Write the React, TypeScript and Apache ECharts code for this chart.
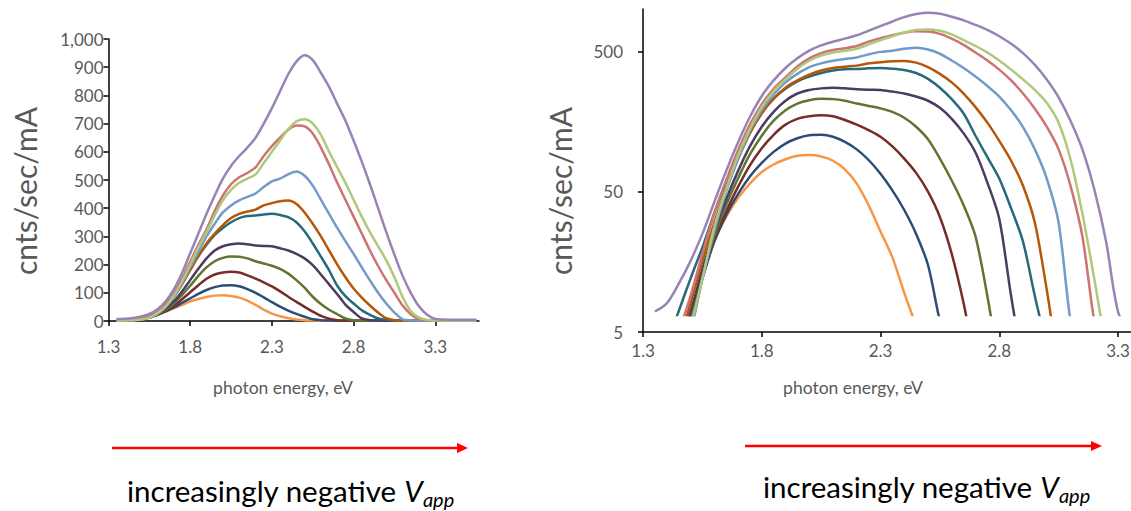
import React, { useEffect, useRef } from "react";
import * as echarts from "echarts";

// photon energy grid (eV)
const energies = [
  1.35, 1.4, 1.45, 1.5, 1.55, 1.6, 1.65, 1.7, 1.75, 1.8, 1.85, 1.9, 1.95, 2.0, 2.05,
  2.1, 2.15, 2.2, 2.25, 2.3, 2.35, 2.4, 2.45, 2.5, 2.55, 2.6, 2.65, 2.7, 2.75, 2.8,
  2.85, 2.9, 2.95, 3.0, 3.05, 3.1, 3.15, 3.2, 3.25, 3.3, 3.35, 3.4, 3.45, 3.5, 3.55,
];

// cnts/sec/mA for each applied voltage (increasingly negative)
const s01 = [0.5, 1, 2.5, 5, 12, 22, 33, 45, 57, 69, 78, 85, 90, 91, 89, 83, 72, 57, 40, 26, 17, 9.5, 5.5, 3, 1.5, 1, 0.8, 0.6, 0.5, 0.5, 0.5, 0.5, 0.5, 0.5, 0.5, 0.5, 0.5, 0.5, 0.5, 0.5, 0.5, 0.5, 0.5, 0.5, 0.5];
const s02 = [1, 2, 3.5, 6, 12, 22, 34, 48, 64, 80, 96, 110, 120, 126, 127, 123, 113, 100, 84, 67, 51, 37, 25, 15, 6, 3, 1.5, 1, 0.8, 0.6, 0.5, 0.5, 0.5, 0.5, 0.5, 0.5, 0.5, 0.5, 0.5, 0.5, 0.5, 0.5, 0.5, 0.5, 0.5];
const s03 = [1, 2, 3.5, 6.5, 13, 23, 36, 54, 77, 102, 127, 150, 165, 172, 175, 172, 162, 150, 137, 123, 105, 86, 68, 50, 33, 18, 8, 3, 1.5, 1, 0.8, 0.6, 0.5, 0.5, 0.5, 0.5, 0.5, 0.5, 0.5, 0.5, 0.5, 0.5, 0.5, 0.5, 0.5];
const s04 = [1, 2, 3.5, 6.5, 13, 24, 40, 62, 92, 125, 160, 190, 212, 224, 229, 228, 222, 212, 204, 196, 185, 168, 145, 118, 86, 60, 40, 24, 9, 3, 1.5, 1, 0.8, 0.6, 0.5, 0.5, 0.5, 0.5, 0.5, 0.5, 0.5, 0.5, 0.5, 0.5, 0.5];
const s05 = [1, 2, 4, 7, 14, 26, 44, 70, 105, 145, 185, 222, 250, 265, 272, 275, 272, 268, 266, 265, 258, 250, 238, 222, 198, 165, 130, 95, 58, 32, 9, 3, 1.5, 1, 0.8, 0.6, 0.5, 0.5, 0.5, 0.5, 0.5, 0.5, 0.5, 0.5, 0.5];
const s06 = [2, 4, 7, 12, 20, 35, 58, 92, 135, 185, 230, 270, 305, 330, 350, 365, 372, 374, 378, 380, 376, 368, 350, 318, 275, 228, 180, 125, 88, 62, 38, 22, 9, 4, 2, 1, 0.8, 0.6, 0.5, 0.5, 0.5, 0.5, 0.5, 0.5, 0.5];
const s07 = [1, 2, 4, 8, 16, 30, 52, 85, 130, 180, 230, 275, 310, 340, 365, 380, 388, 395, 410, 418, 425, 427, 415, 385, 345, 300, 250, 200, 155, 115, 83, 55, 30, 10, 3, 1.5, 1, 0.8, 0.6, 0.5, 0.5, 0.5, 0.5, 0.5, 0.5];
const s08 = [1, 2, 3, 5, 12, 26, 50, 85, 135, 190, 245, 300, 345, 385, 410, 428, 440, 452, 475, 495, 505, 520, 530, 515, 480, 430, 380, 330, 283, 238, 190, 144, 100, 62, 30, 6, 2.5, 1.5, 1, 0.8, 0.6, 0.5, 0.5, 0.5, 0.5];
const s09 = [2, 3, 5, 9, 18, 35, 60, 98, 150, 210, 270, 325, 390, 445, 485, 510, 525, 545, 585, 620, 650, 678, 693, 690, 665, 615, 555, 490, 430, 370, 310, 250, 195, 145, 100, 55, 24, 6, 2.5, 1.5, 1, 0.8, 0.6, 0.5, 0.5];
const s10 = [1, 2, 3, 5.5, 12, 28, 52, 90, 140, 200, 260, 315, 375, 428, 465, 490, 505, 520, 560, 600, 640, 680, 708, 715, 700, 660, 600, 545, 490, 430, 370, 315, 265, 215, 155, 85, 35, 12, 4, 2, 1.5, 1.5, 1.5, 1.5, 1.5];
const s11 = [7, 8, 11, 16, 25, 42, 70, 112, 170, 240, 310, 380, 445, 505, 550, 585, 615, 650, 700, 755, 815, 875, 920, 942, 925, 880, 830, 770, 710, 640, 565, 485, 400, 315, 235, 160, 100, 52, 22, 7, 5, 4.5, 4, 4, 4];

const allSeries = [s01, s02, s03, s04, s05, s06, s07, s08, s09, s10, s11];
const seriesColors = [
  "#F79646", "#2C4D75", "#772C2A", "#5F7530", "#4D3B62", "#276A7C",
  "#B65708", "#729ACA", "#CD7371", "#AFC97A", "#9983B5",
];

const xTicks = [1.3, 1.8, 2.3, 2.8, 3.3];
const rightYTicks = [5, 50, 500];
const yTitle = "cnts/sec/mA";
const xTitle = "photon energy, eV";
const arrowCaption = "increasingly negative ";

const FONT = "Lato, 'Open Sans', sans-serif";
const GREY = "#595959";

export default function App() {
  const ref = useRef<HTMLDivElement>(null);

  useEffect(() => {
    const chart = echarts.init(ref.current!, null, { renderer: "svg" });

    // left panel geometry
    const L = { left: 108.5, top: 39, width: 370.5, height: 282 };
    const lPxPerEv = 163.4;
    const lXMax = 1.3 + L.width / lPxPerEv;
    // right panel geometry
    const R = { left: 643, top: 9, width: 488, height: 323 };
    const rPxPerEv = 237.5;
    const rXMax = 1.3 + R.width / rPxPerEv;
    const rYMin = Math.log10(5);
    const rYMax = 3;
    const pxPerDec = R.height / (rYMax - rYMin);
    const clipBottom = 315; // data shown down to this pixel row
    const R2h = clipBottom - R.top;
    const r2YMin = rYMax - R2h / pxPerDec;

    const axisLine = { show: true, lineStyle: { color: "#000", width: 1.5 } };
    const axisTick = { show: true, length: 5, lineStyle: { color: "#000", width: 1.5 } };
    const labelBase = { color: GREY, fontSize: 17, fontFamily: FONT };

    const series: any[] = [];
    allSeries.forEach((vals, k) => {
      series.push({
        type: "line",
        xAxisIndex: 0,
        yAxisIndex: 0,
        data: energies.map((e, i) => [e, vals[i]]),
        showSymbol: false,
        symbol: "none",
        smooth: 0.3,
        silent: true,
        lineStyle: { color: seriesColors[k], width: 2.5 },
        itemStyle: { color: seriesColors[k] },
      });
      series.push({
        type: "line",
        xAxisIndex: 2,
        yAxisIndex: 2,
        data: energies.map((e, i) => [e, Math.log10(vals[i])]),
        showSymbol: false,
        symbol: "none",
        smooth: 0.3,
        silent: true,
        clip: true,
        lineStyle: { color: seriesColors[k], width: 2.5 },
        itemStyle: { color: seriesColors[k] },
      });
    });

    const arrow = (x1: number, x2: number, y: number) => [
      { type: "line", shape: { x1, y1: y, x2: x2 - 8, y2: y }, style: { stroke: "#FF0000", lineWidth: 2.5 } },
      { type: "polygon", shape: { points: [[x2, y], [x2 - 11, y - 5], [x2 - 11, y + 5]] }, style: { fill: "#FF0000" } },
    ];
    const caption = (x: number, y: number) => ({
      type: "text",
      x,
      y,
      style: {
        text: `{a|${arrowCaption}}{v|V}{s|app}`,
        textVerticalAlign: "bottom",
        rich: {
          a: { fontSize: 29.5, fontFamily: FONT, fill: "#000", verticalAlign: "bottom", padding: [0, 0, 4, 0] },
          v: { fontSize: 29.5, fontFamily: FONT, fontStyle: "italic", fill: "#000", verticalAlign: "bottom", padding: [0, 0, 4, 0] },
          s: { fontSize: 20, fontFamily: FONT, fontStyle: "italic", fill: "#000", verticalAlign: "bottom" },
        },
      },
    });

    const option: any = {
      animation: false,
      backgroundColor: "#fff",
      grid: [
        { ...L, outerBoundsMode: "none", containLabel: false },
        { ...R, outerBoundsMode: "none", containLabel: false },
        { left: R.left, top: R.top, width: R.width, height: R2h, outerBoundsMode: "none", containLabel: false },
      ],
      xAxis: [
        {
          type: "value", gridIndex: 0, min: 1.3, max: lXMax,
          axisLine, axisTick: { ...axisTick, customValues: xTicks },
          axisLabel: { ...labelBase, margin: 17, customValues: xTicks, formatter: (v: number) => v.toFixed(1) },
          splitLine: { show: false },
        },
        {
          type: "value", gridIndex: 1, min: 1.3, max: rXMax,
          axisLine, axisTick: { ...axisTick, customValues: xTicks },
          axisLabel: { ...labelBase, margin: 10, customValues: xTicks, formatter: (v: number) => v.toFixed(1) },
          splitLine: { show: false },
        },
        { type: "value", gridIndex: 2, min: 1.3, max: rXMax, show: false },
      ],
      yAxis: [
        {
          type: "value", gridIndex: 0, min: 0, max: 1000, interval: 100,
          axisLine, axisTick,
          axisLabel: { ...labelBase, margin: 5, formatter: (v: number) => v.toLocaleString("en-US") },
          splitLine: { show: false },
        },
        {
          type: "value", gridIndex: 1, min: rYMin, max: rYMax,
          axisLine,
          axisTick: { ...axisTick, customValues: rightYTicks.map((t) => Math.log10(t)) },
          axisLabel: {
            ...labelBase, margin: 20,
            customValues: rightYTicks.map((t) => Math.log10(t)),
            formatter: (v: number) => String(Math.round(Math.pow(10, v))),
          },
          splitLine: { show: false },
        },
        { type: "value", gridIndex: 2, min: r2YMin, max: rYMax, show: false },
      ],
      series,
      graphic: [
        { type: "text", x: 25, y: 191, rotation: Math.PI / 2, style: { text: yTitle, fill: GREY, fontSize: 30, fontFamily: FONT, textAlign: "center", textVerticalAlign: "middle" } },
        { type: "text", x: 560, y: 191, rotation: Math.PI / 2, style: { text: yTitle, fill: GREY, fontSize: 30, fontFamily: FONT, textAlign: "center", textVerticalAlign: "middle" } },
        { type: "text", x: 283, y: 387, style: { text: xTitle, fill: GREY, fontSize: 17.5, fontFamily: FONT, textAlign: "center", textVerticalAlign: "middle" } },
        { type: "text", x: 853, y: 387, style: { text: xTitle, fill: GREY, fontSize: 17.5, fontFamily: FONT, textAlign: "center", textVerticalAlign: "middle" } },
        ...arrow(112, 468, 448),
        ...arrow(745, 1102, 446),
        caption(127, 509),
        caption(763, 505),
      ],
    };

    chart.setOption(option);
    return () => chart.dispose();
  }, []);

  return (
    <div
      ref={ref}
      style={{ position: "fixed", left: 0, top: 0, width: 1131, height: 511, background: "#fff" }}
    />
  );
}
